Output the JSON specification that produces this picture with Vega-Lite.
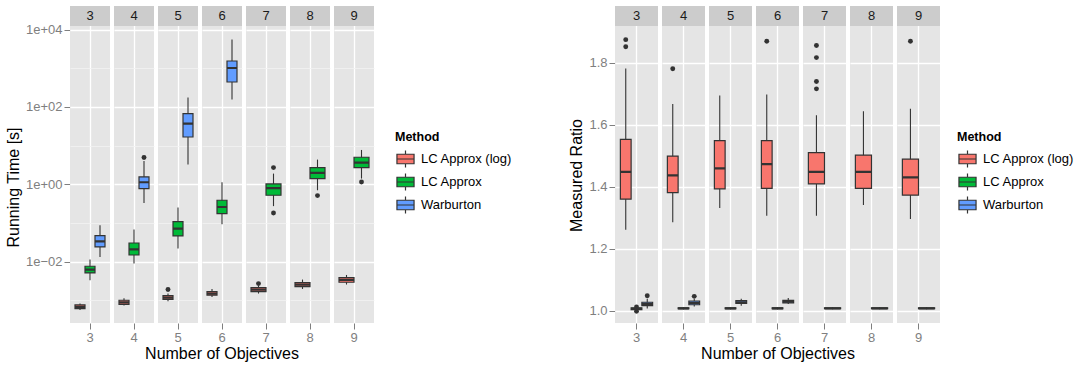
{
  "$schema": "https://vega.github.io/schema/vega-lite/v6.json",
  "padding": {"left": 5, "top": 6, "right": 5, "bottom": 5},
  "config": {
    "font": "Liberation Sans",
    "view": {"fill": "#E5E5E5", "stroke": null},
    "axis": {
      "domain": false,
      "labelColor": "#7F7F7F",
      "labelFontSize": 13,
      "tickColor": "#7F7F7F",
      "tickSize": 6,
      "labelPadding": 2,
      "titleFontSize": 16,
      "titleFontWeight": "normal",
      "titleColor": "#000000",
      "gridColor": "#FFFFFF",
      "gridWidth": 1.3
    },
    "legend": {
      "titleFontSize": 12.5,
      "titleFontWeight": "bold",
      "titleColor": "#000000",
      "labelFontSize": 13,
      "labelColor": "#000000",
      "symbolType": "M-0.9,-0.5H0.9V0.5H-0.9Z M-0.9,0H0.9 M0,-0.5V-0.9 M0,0.5V0.9",
      "symbolSize": 361,
      "symbolStrokeColor": "#333333",
      "symbolStrokeWidth": 1.2,
      "symbolOpacity": 1,
      "rowPadding": 0,
      "labelOffset": 5,
      "titlePadding": 5
    }
  },
  "datasets": {
    "runtime": [
      {"obj": 3, "method": "LC Approx (log)", "lo": 0.000562, "q1": 0.000608, "med": 0.000673, "q3": 0.000757, "hi": 0.00082},
      {"obj": 3, "method": "LC Approx", "lo": 0.00329, "q1": 0.00508, "med": 0.00622, "q3": 0.00757, "hi": 0.01138},
      {"obj": 3, "method": "Warburton", "lo": 0.01315, "q1": 0.0239, "med": 0.0335, "q3": 0.0471, "hi": 0.0869},
      {"obj": 4, "method": "LC Approx (log)", "lo": 0.00073, "q1": 0.000787, "med": 0.000887, "q3": 0.001, "hi": 0.001125},
      {"obj": 4, "method": "LC Approx", "lo": 0.00889, "q1": 0.0148, "med": 0.0208, "q3": 0.0303, "hi": 0.0673},
      {"obj": 4, "method": "Warburton", "lo": 0.329, "q1": 0.773, "med": 1.127, "q3": 1.549, "hi": 4.01},
      {"obj": 4, "method": "Warburton", "out": 4.9},
      {"obj": 5, "method": "LC Approx (log)", "lo": 0.000942, "q1": 0.00106, "med": 0.001175, "q3": 0.00132, "hi": 0.00149},
      {"obj": 5, "method": "LC Approx (log)", "out": 0.00189},
      {"obj": 5, "method": "LC Approx", "lo": 0.0217, "q1": 0.046, "med": 0.0714, "q3": 0.1084, "hi": 0.2495},
      {"obj": 5, "method": "Warburton", "lo": 3.23, "q1": 16.7, "med": 37.1, "q3": 67.3, "hi": 174.6},
      {"obj": 6, "method": "LC Approx (log)", "lo": 0.00122, "q1": 0.00135, "med": 0.00149, "q3": 0.00168, "hi": 0.00196},
      {"obj": 6, "method": "LC Approx", "lo": 0.0923, "q1": 0.1746, "med": 0.2582, "q3": 0.3855, "hi": 1.122},
      {"obj": 6, "method": "Warburton", "lo": 154.9, "q1": 441.6, "med": 1016, "q3": 1542, "hi": 5508},
      {"obj": 7, "method": "LC Approx (log)", "lo": 0.00149, "q1": 0.00168, "med": 0.00189, "q3": 0.00213, "hi": 0.0024},
      {"obj": 7, "method": "LC Approx (log)", "out": 0.0027},
      {"obj": 7, "method": "LC Approx", "lo": 0.272, "q1": 0.519, "med": 0.794, "q3": 1.019, "hi": 1.888},
      {"obj": 7, "method": "LC Approx", "out": 2.7},
      {"obj": 7, "method": "LC Approx", "out": 0.181},
      {"obj": 8, "method": "LC Approx (log)", "lo": 0.00196, "q1": 0.00226, "med": 0.00255, "q3": 0.00286, "hi": 0.00343},
      {"obj": 8, "method": "LC Approx", "lo": 0.7, "q1": 1.403, "med": 1.959, "q3": 2.698, "hi": 4.345},
      {"obj": 8, "method": "LC Approx", "out": 0.509},
      {"obj": 9, "method": "LC Approx (log)", "lo": 0.00255, "q1": 0.00292, "med": 0.00335, "q3": 0.00386, "hi": 0.00451},
      {"obj": 9, "method": "LC Approx", "lo": 1.403, "q1": 2.698, "med": 3.639, "q3": 4.989, "hi": 7.709},
      {"obj": 9, "method": "LC Approx", "out": 1.148}
    ],
    "ratio": [
      {"obj": 3, "method": "LC Approx (log)", "lo": 1.261, "q1": 1.36, "med": 1.448, "q3": 1.553, "hi": 1.782},
      {"obj": 3, "method": "LC Approx (log)", "out": 1.852},
      {"obj": 3, "method": "LC Approx (log)", "out": 1.875},
      {"obj": 3, "method": "LC Approx", "lo": 1.0, "q1": 1.003, "med": 1.006, "q3": 1.009, "hi": 1.011},
      {"obj": 3, "method": "LC Approx", "out": 0.998},
      {"obj": 3, "method": "LC Approx", "out": 1.012},
      {"obj": 3, "method": "Warburton", "lo": 1.007, "q1": 1.016, "med": 1.021, "q3": 1.027, "hi": 1.038},
      {"obj": 3, "method": "Warburton", "out": 1.048},
      {"obj": 4, "method": "LC Approx (log)", "lo": 1.285, "q1": 1.381, "med": 1.437, "q3": 1.499, "hi": 1.667},
      {"obj": 4, "method": "LC Approx (log)", "out": 1.781},
      {"obj": 4, "method": "LC Approx", "lo": 1.004, "q1": 1.006, "med": 1.007, "q3": 1.009, "hi": 1.011},
      {"obj": 4, "method": "Warburton", "lo": 1.013, "q1": 1.019, "med": 1.025, "q3": 1.031, "hi": 1.038},
      {"obj": 4, "method": "Warburton", "out": 1.046},
      {"obj": 5, "method": "LC Approx (log)", "lo": 1.331, "q1": 1.393, "med": 1.459, "q3": 1.549, "hi": 1.695},
      {"obj": 5, "method": "LC Approx", "lo": 1.004, "q1": 1.006, "med": 1.007, "q3": 1.009, "hi": 1.011},
      {"obj": 5, "method": "Warburton", "lo": 1.016, "q1": 1.023, "med": 1.027, "q3": 1.032, "hi": 1.038},
      {"obj": 6, "method": "LC Approx (log)", "lo": 1.306, "q1": 1.395, "med": 1.473, "q3": 1.549, "hi": 1.698},
      {"obj": 6, "method": "LC Approx (log)", "out": 1.87},
      {"obj": 6, "method": "LC Approx", "lo": 1.004, "q1": 1.006, "med": 1.007, "q3": 1.009, "hi": 1.011},
      {"obj": 6, "method": "Warburton", "lo": 1.021, "q1": 1.025, "med": 1.029, "q3": 1.033, "hi": 1.041},
      {"obj": 7, "method": "LC Approx (log)", "lo": 1.306, "q1": 1.409, "med": 1.448, "q3": 1.51, "hi": 1.631},
      {"obj": 7, "method": "LC Approx (log)", "out": 1.716},
      {"obj": 7, "method": "LC Approx (log)", "out": 1.74},
      {"obj": 7, "method": "LC Approx (log)", "out": 1.817},
      {"obj": 7, "method": "LC Approx (log)", "out": 1.856},
      {"obj": 7, "method": "LC Approx", "lo": 1.004, "q1": 1.006, "med": 1.007, "q3": 1.009, "hi": 1.011},
      {"obj": 8, "method": "LC Approx (log)", "lo": 1.341, "q1": 1.395, "med": 1.448, "q3": 1.502, "hi": 1.644},
      {"obj": 8, "method": "LC Approx", "lo": 1.004, "q1": 1.006, "med": 1.007, "q3": 1.009, "hi": 1.011},
      {"obj": 9, "method": "LC Approx (log)", "lo": 1.296, "q1": 1.373, "med": 1.43, "q3": 1.489, "hi": 1.652},
      {"obj": 9, "method": "LC Approx (log)", "out": 1.87},
      {"obj": 9, "method": "LC Approx", "lo": 1.004, "q1": 1.006, "med": 1.007, "q3": 1.009, "hi": 1.011}
    ]
  },
  "hconcat": [
    {
      "data": {"name": "runtime"},
      "facet": {
        "column": {
          "field": "obj", "type": "ordinal",
          "header": {"labels": false, "labelPadding": 0, "title": "Number of Objectives", "titleOrient": "bottom", "titleFontSize": 16, "titleFontWeight": "normal", "titleColor": "#000000", "titlePadding": -8}
        }
      },
      "spacing": {"column": 4},
      "resolve": {"scale": {"x": "independent", "xOffset": "independent"}},
      "spec": {
        "width": 40,
        "height": 317,
        "layer": [
          {
            "transform": [{"filter": "isValid(datum.med)"}],
            "mark": {"type": "rule", "color": "#333333", "strokeWidth": 1.1},
            "encoding": {
              "x": {"field": "obj", "type": "nominal", "title": null, "scale": {"paddingInner": 0, "paddingOuter": 0.1667},
                    "axis": {"labelAngle": 0, "grid": true, "gridColor": "#FFFFFF", "gridWidth": 1.3}},
              "xOffset": {"field": "method", "type": "nominal", "sort": ["LC Approx (log)", "LC Approx", "Warburton"], "scale": {"paddingInner": 0, "paddingOuter": 0}},
              "y": {"field": "lo", "type": "quantitative", "title": "Running Time [s]",
                    "scale": {"type": "log", "domain": [0.0002582, 40738], "nice": false},
                    "axis": {
                      "title": "Running Time [s]",
                      "titleY": 181,
                      "titlePadding": 4,
                      "values": [0.001, 0.01, 0.1, 1, 10, 100, 1000, 10000],
                      "labelExpr": "datum.value == 10000 ? '1e+04' : datum.value == 100 ? '1e+02' : datum.value == 1 ? '1e+00' : datum.value == 0.01 ? '1e\u221202' : ''",
                      "gridColor": {"condition": {"test": "round(log(datum.value) / LN10) % 2 == 0", "value": "#FFFFFF"}, "value": "#F2F2F2"},
                      "gridWidth": {"condition": {"test": "round(log(datum.value) / LN10) % 2 == 0", "value": 1.3}, "value": 0.8},
                      "tickOpacity": {"condition": {"test": "round(log(datum.value) / LN10) % 2 == 0", "value": 1}, "value": 0}
                    }},
              "y2": {"field": "hi", "title": "Running Time [s]"}
            }
          },
          {
            "transform": [{"filter": "isValid(datum.med)"}],
            "mark": {"type": "bar", "stroke": "#333333", "strokeWidth": 1.2},
            "encoding": {
              "x": {"field": "obj", "type": "nominal", "title": null},
              "xOffset": {"field": "method", "type": "nominal", "sort": ["LC Approx (log)", "LC Approx", "Warburton"]},
              "y": {"field": "q1", "type": "quantitative", "title": "Running Time [s]"},
              "y2": {"field": "q3", "title": "Running Time [s]"},
              "fill": {"field": "method", "type": "nominal",
                       "scale": {"domain": ["LC Approx (log)", "LC Approx", "Warburton"], "range": ["#F8766D", "#00BA38", "#619CFF"]},
                       "legend": {"title": "Method", "orient": "none", "legendX": 325, "legendY": 125}}
            }
          },
          {
            "transform": [{"filter": "isValid(datum.med)"}],
            "mark": {"type": "bar", "fill": null, "fillOpacity": 0, "stroke": "#333333", "strokeWidth": 2.2},
            "encoding": {
              "x": {"field": "obj", "type": "nominal", "title": null},
              "xOffset": {"field": "method", "type": "nominal", "sort": ["LC Approx (log)", "LC Approx", "Warburton"]},
              "y": {"field": "med", "type": "quantitative", "title": "Running Time [s]"},
              "y2": {"field": "med", "title": "Running Time [s]"}
            }
          },
          {
            "transform": [{"filter": "isValid(datum.out)"}],
            "mark": {"type": "point", "filled": true, "color": "#333333", "opacity": 1, "size": 24},
            "encoding": {
              "x": {"field": "obj", "type": "nominal", "title": null},
              "xOffset": {"field": "method", "type": "nominal", "sort": ["LC Approx (log)", "LC Approx", "Warburton"]},
              "y": {"field": "out", "type": "quantitative", "title": "Running Time [s]"}
            }
          },
          {
            "transform": [{"filter": "datum.method === 'LC Approx' && isValid(datum.med)"}],
            "mark": {"type": "rect", "fill": "#CCCCCC"},
            "encoding": {
              "y": {"datum": 12388, "type": "quantitative", "title": "Running Time [s]"},
              "y2": {"datum": 40738}
            }
          },
          {
            "transform": [{"filter": "datum.method === 'LC Approx' && isValid(datum.med)"}],
            "mark": {"type": "text", "fontSize": 13, "color": "#1A1A1A", "baseline": "middle"},
            "encoding": {
              "x": {"field": "obj", "type": "nominal", "title": null},
              "y": {"datum": 22465, "type": "quantitative", "title": "Running Time [s]"},
              "text": {"field": "obj"}
            }
          }
        ]
      }
    },
    {
      "data": {"name": "ratio"},
      "facet": {
        "column": {
          "field": "obj", "type": "ordinal",
          "header": {"labels": false, "labelPadding": 0, "title": "Number of Objectives", "titleOrient": "bottom", "titleFontSize": 16, "titleFontWeight": "normal", "titleColor": "#000000", "titlePadding": -8}
        }
      },
      "spacing": {"column": 4},
      "resolve": {"scale": {"x": "independent", "xOffset": "independent"}},
      "spec": {
        "width": 43,
        "height": 317,
        "layer": [
          {
            "transform": [{"filter": "isValid(datum.med)"}],
            "mark": {"type": "rule", "color": "#333333", "strokeWidth": 1.1},
            "encoding": {
              "x": {"field": "obj", "type": "nominal", "title": null, "scale": {"paddingInner": 0, "paddingOuter": 0.1667},
                    "axis": {"labelAngle": 0, "grid": true, "gridColor": "#FFFFFF", "gridWidth": 1.3}},
              "xOffset": {"field": "method", "type": "nominal", "sort": ["LC Approx (log)", "LC Approx", "Warburton"], "scale": {"paddingInner": 0, "paddingOuter": 0}},
              "y": {"field": "lo", "type": "quantitative", "title": "Measured Ratio",
                    "scale": {"domain": [0.96, 1.9836], "nice": false, "zero": false},
                    "axis": {
                      "title": "Measured Ratio",
                      "titleY": 169,
                      "titlePadding": 4,
                      "values": [1.0, 1.1, 1.2, 1.3, 1.4, 1.5, 1.6, 1.7, 1.8, 1.9],
                      "labelExpr": "round(datum.value * 10) % 2 == 0 ? format(datum.value, '.1f') : ''",
                      "gridColor": {"condition": {"test": "round(datum.value * 10) % 2 == 0", "value": "#FFFFFF"}, "value": "#F2F2F2"},
                      "gridWidth": {"condition": {"test": "round(datum.value * 10) % 2 == 0", "value": 1.3}, "value": 0.8},
                      "tickOpacity": {"condition": {"test": "round(datum.value * 10) % 2 == 0", "value": 1}, "value": 0}
                    }},
              "y2": {"field": "hi", "title": "Measured Ratio"}
            }
          },
          {
            "transform": [{"filter": "isValid(datum.med)"}],
            "mark": {"type": "bar", "stroke": "#333333", "strokeWidth": 1.2},
            "encoding": {
              "x": {"field": "obj", "type": "nominal", "title": null},
              "xOffset": {"field": "method", "type": "nominal", "sort": ["LC Approx (log)", "LC Approx", "Warburton"]},
              "y": {"field": "q1", "type": "quantitative", "title": "Measured Ratio"},
              "y2": {"field": "q3", "title": "Measured Ratio"},
              "fill": {"field": "method", "type": "nominal",
                       "scale": {"domain": ["LC Approx (log)", "LC Approx", "Warburton"], "range": ["#F8766D", "#00BA38", "#619CFF"]},
                       "legend": {"title": "Method", "orient": "none", "legendX": 342, "legendY": 125}}
            }
          },
          {
            "transform": [{"filter": "isValid(datum.med)"}],
            "mark": {"type": "bar", "fill": null, "fillOpacity": 0, "stroke": "#333333", "strokeWidth": 2.2},
            "encoding": {
              "x": {"field": "obj", "type": "nominal", "title": null},
              "xOffset": {"field": "method", "type": "nominal", "sort": ["LC Approx (log)", "LC Approx", "Warburton"]},
              "y": {"field": "med", "type": "quantitative", "title": "Measured Ratio"},
              "y2": {"field": "med", "title": "Measured Ratio"}
            }
          },
          {
            "transform": [{"filter": "isValid(datum.out)"}],
            "mark": {"type": "point", "filled": true, "color": "#333333", "opacity": 1, "size": 24},
            "encoding": {
              "x": {"field": "obj", "type": "nominal", "title": null},
              "xOffset": {"field": "method", "type": "nominal", "sort": ["LC Approx (log)", "LC Approx", "Warburton"]},
              "y": {"field": "out", "type": "quantitative", "title": "Measured Ratio"}
            }
          },
          {
            "transform": [{"filter": "datum.method === 'LC Approx' && isValid(datum.med)"}],
            "mark": {"type": "rect", "fill": "#CCCCCC"},
            "encoding": {
              "y": {"datum": 1.919, "type": "quantitative", "title": "Measured Ratio"},
              "y2": {"datum": 1.9836}
            }
          },
          {
            "transform": [{"filter": "datum.method === 'LC Approx' && isValid(datum.med)"}],
            "mark": {"type": "text", "fontSize": 13, "color": "#1A1A1A", "baseline": "middle"},
            "encoding": {
              "x": {"field": "obj", "type": "nominal", "title": null},
              "y": {"datum": 1.9513, "type": "quantitative", "title": "Measured Ratio"},
              "text": {"field": "obj"}
            }
          }
        ]
      }
    }
  ],
  "spacing": 55,
  "resolve": {"scale": {"fill": "independent"}, "legend": {"fill": "independent"}}
}
